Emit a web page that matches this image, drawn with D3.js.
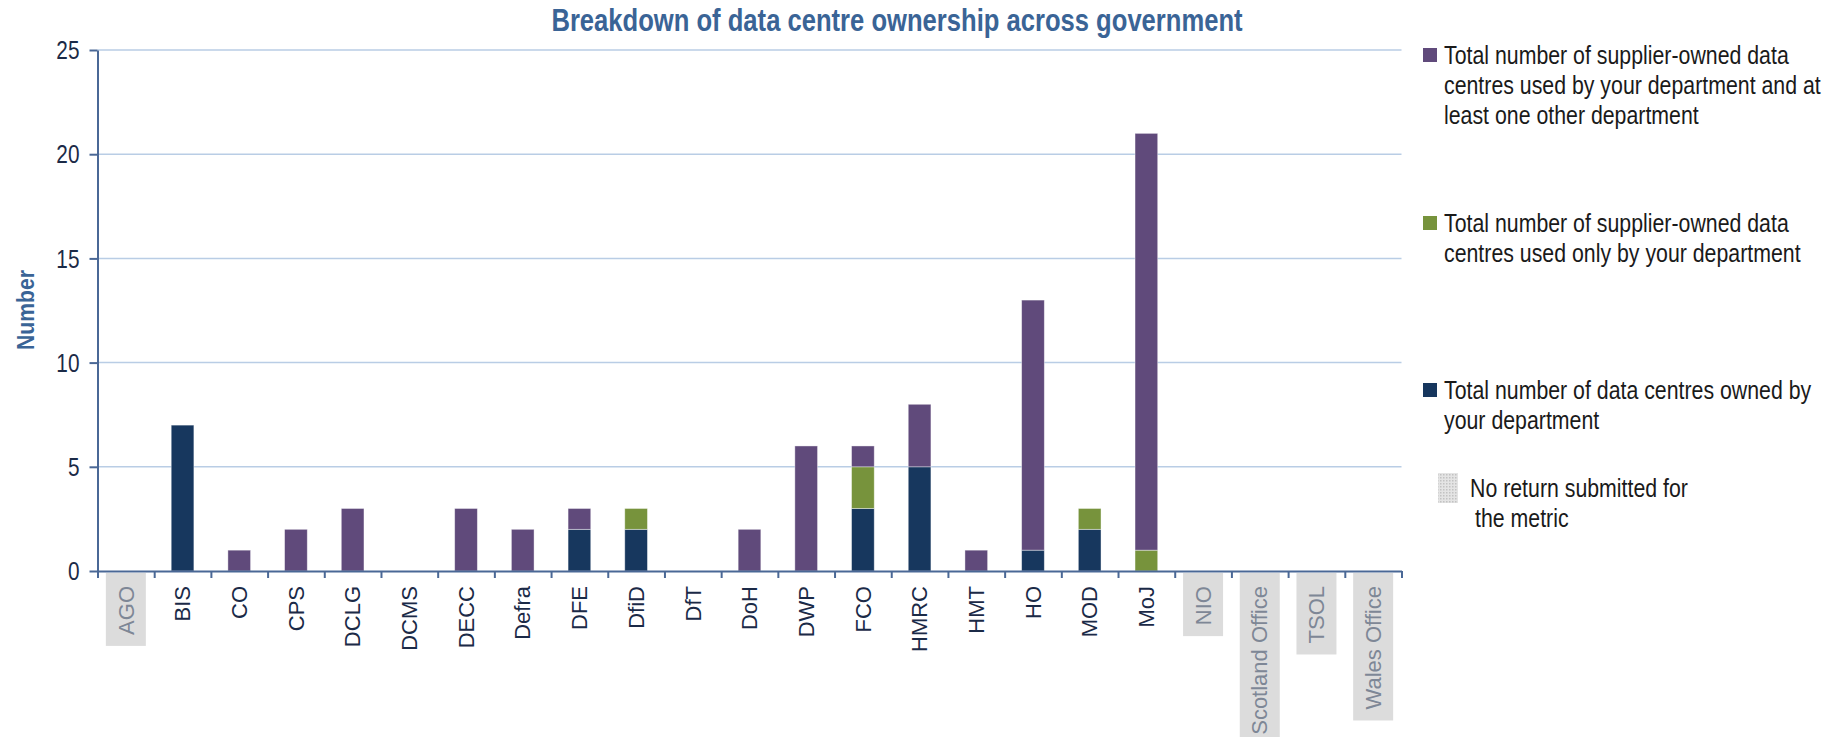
<!DOCTYPE html>
<html>
<head>
<meta charset="utf-8">
<script src="https://cdn.jsdelivr.net/npm/d3@7"></script>
<style>
  body { margin: 0; background: #fff; }
  svg { display: block; }
  text { font-family: "Liberation Sans", Arial, sans-serif; }
</style>
</head>
<body>
<svg id="chart" width="1836" height="737"></svg>
<script>
// departments along the x axis
const departments = ["AGO", "BIS", "CO", "CPS", "DCLG", "DCMS", "DECC", "Defra", "DFE", "DfiD", "DfT",
    "DoH", "DWP", "FCO", "HMRC", "HMT", "HO", "MOD", "MoJ", "NIO", "Scotland Office", "TSOL", "Wales Office"];

// series values, stacked bottom to top
const ownedByDept    = [0, 7, 0, 0, 0, 0, 0, 0, 2, 2, 0, 0, 0, 3, 5, 0, 1, 2, 0, 0, 0, 0, 0];
const supplierOnly   = [0, 0, 0, 0, 0, 0, 0, 0, 0, 1, 0, 0, 0, 2, 0, 0, 0, 1, 1, 0, 0, 0, 0];
const supplierShared = [0, 0, 1, 2, 3, 0, 3, 2, 1, 0, 0, 2, 6, 1, 3, 1, 12, 0, 20, 0, 0, 0, 0];

// departments that sent no return
const noReturn = ["AGO", "NIO", "Scotland Office", "TSOL", "Wales Office"];

const yTicks = [0, 5, 10, 15, 20, 25];

const seriesKeys = ["owned", "only", "shared"];
const seriesColors = {owned: "#17375E", only: "#77933C", shared: "#604A7B"};
const legendLines = [
    {key: "shared", lines: ["Total number of supplier-owned data", "centres used by your department and at", "least one other department"]},
    {key: "only", lines: ["Total number of supplier-owned data", "centres used only by your department"]},
    {key: "owned", lines: ["Total number of data centres owned by", "your department"]}
];

const rows = departments.map((d, i) => ({
    dept: d,
    owned: ownedByDept[i],
    only: supplierOnly[i],
    shared: supplierShared[i]
}));

// no narrow font installed, so squeeze horizontally with a transform
function narrowText(parent, px, py, k, str) {
    return parent.append("g")
        .attr("transform", `translate(${px},${py}) scale(${k},1)`)
        .append("text")
        .text(str);
}

const margin = {left: 97.5, right: 1401.5, top: 50, bottom: 571};
const svg = d3.select("#chart");

const x = d3.scaleBand()
    .domain(departments)
    .range([margin.left, margin.right])
    .paddingInner(0.6)
    .paddingOuter(0.3);

const xEdges = d3.scaleLinear()
    .domain([0, departments.length])
    .range([margin.left, margin.right]);

const y = d3.scaleLinear()
    .domain([0, 25])
    .range([margin.bottom, margin.top]);

// grid
svg.append("g")
    .selectAll("line")
    .data(yTicks.filter(t => t > 0))
    .join("line")
    .attr("x1", margin.left)
    .attr("x2", margin.right)
    .attr("y1", d => y(d))
    .attr("y2", d => y(d))
    .attr("stroke", "#B9CDE5")
    .attr("stroke-width", 1.5);

// bars
const stacked = d3.stack().keys(seriesKeys)(rows);
svg.append("g")
    .selectAll("g")
    .data(stacked)
    .join("g")
    .attr("fill", s => seriesColors[s.key])
    .selectAll("rect")
    .data(s => s.filter(p => p[1] > p[0]))
    .join("rect")
    .attr("x", p => x(p.data.dept))
    .attr("width", x.bandwidth())
    .attr("y", p => y(p[1]))
    .attr("height", p => y(p[0]) - y(p[1]))
    .attr("stroke", "#ffffff")
    .attr("stroke-opacity", 0.5)
    .attr("stroke-width", 0.8);

// x axis with ticks at band edges
const xAxis = svg.append("g")
    .attr("transform", `translate(0,${margin.bottom})`)
    .call(d3.axisBottom(xEdges)
        .tickValues(d3.range(departments.length + 1))
        .tickFormat("")
        .tickSizeInner(7)
        .tickSizeOuter(0));
xAxis.selectAll("path, line").attr("stroke", "#4A6896").attr("stroke-width", 2);

// y axis: lines from d3, labels squeezed separately
const yAxis = svg.append("g")
    .attr("transform", `translate(${margin.left},0)`)
    .call(d3.axisLeft(y)
        .tickValues(yTicks)
        .tickSizeInner(8)
        .tickSizeOuter(0)
        .tickFormat(""));
yAxis.selectAll("path, line").attr("stroke", "#4A6896").attr("stroke-width", 2);
yTicks.forEach(t => {
    narrowText(svg, margin.left - 18, y(t), 0.8, d3.format("d")(t))
        .attr("text-anchor", "end")
        .attr("dy", "0.35em")
        .attr("font-size", 26)
        .attr("fill", "#1B2A47");
});

// category labels
const labels = svg.append("g");
departments.forEach(d => {
    const cx = x(d) + x.bandwidth() / 2;
    const grey = noReturn.includes(d);
    const g = labels.append("g").attr("transform", `translate(${cx},${margin.bottom + 15}) rotate(-90)`);
    const t = g.append("text")
        .attr("text-anchor", "end")
        .attr("dy", "0.35em")
        .attr("font-size", 22)
        .attr("fill", grey ? "#7E8796" : "#1B2A47")
        .text(d);
    if (grey) {
        const bb = t.node().getBBox();
        g.insert("rect", "text")
            .attr("x", bb.x - 11)
            .attr("y", -20)
            .attr("width", bb.width + 24)
            .attr("height", 40)
            .attr("fill", "#DCDCDC");
    }
});

// title
narrowText(svg, 897, 31, 0.8, "Breakdown of data centre ownership across government")
    .attr("text-anchor", "middle")
    .attr("font-size", 32)
    .attr("font-weight", "bold")
    .attr("fill", "#3A6496");

// y axis title
svg.append("g")
    .attr("transform", "translate(34,310) rotate(-90) scale(0.88,1)")
    .append("text")
    .attr("text-anchor", "middle")
    .attr("font-size", 24)
    .attr("font-weight", "bold")
    .attr("fill", "#3A6496")
    .text("Number");

// legend
const defs = svg.append("defs");
const pat = defs.append("pattern")
    .attr("id", "dots")
    .attr("width", 3)
    .attr("height", 3)
    .attr("patternUnits", "userSpaceOnUse");
pat.append("rect").attr("width", 3).attr("height", 3).attr("fill", "#E4E4E4");
pat.append("rect").attr("width", 1.5).attr("height", 1.5).attr("fill", "#C2C2C2");

const legendTop = [55, 223, 390];
const legend = svg.append("g");
legendLines.forEach((item, i) => {
    legend.append("rect")
        .attr("x", 1423)
        .attr("y", legendTop[i] - 7)
        .attr("width", 14)
        .attr("height", 14)
        .attr("fill", seriesColors[item.key]);
    item.lines.forEach((line, j) => {
        narrowText(legend, 1444, legendTop[i] + j * 30, 0.82, line)
            .attr("dy", "0.35em")
            .attr("font-size", 26)
            .attr("fill", "#1A1A1A");
    });
});
legend.append("rect")
    .attr("x", 1438)
    .attr("y", 473)
    .attr("width", 20)
    .attr("height", 30)
    .attr("fill", "url(#dots)");
narrowText(legend, 1470, 488, 0.82, "No return submitted for")
    .attr("dy", "0.35em")
    .attr("font-size", 26)
    .attr("fill", "#1A1A1A");
narrowText(legend, 1475, 518, 0.82, "the metric")
    .attr("dy", "0.35em")
    .attr("font-size", 26)
    .attr("fill", "#1A1A1A");
</script>
</body>
</html>
